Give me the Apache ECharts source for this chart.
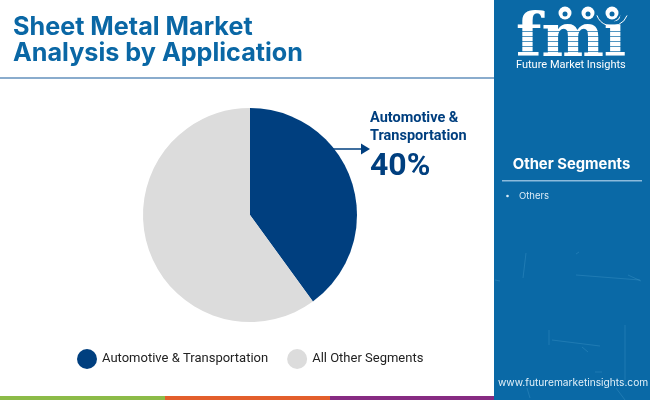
<!DOCTYPE html>
<html>
<head>
<meta charset="utf-8">
<style>
  html, body { margin: 0; padding: 0; background: #fff; }
  #chart { width: 650px; height: 400px; }
</style>
<script src="https://cdn.jsdelivr.net/npm/echarts@6/dist/echarts.min.js"></script>
</head>
<body>
<div id="chart"></div>
<script>
// data
var categories = ["Automotive & Transportation", "All Other Segments"];
var shares = [40, 60];
var sliceColors = ["#003f7f", "#dcdcdc"];
var titleLines = ["Sheet Metal Market", "Analysis by Application"];
var calloutLines = ["Automotive &", "Transportation"];
var sideHeading = "Other Segments";
var sideItems = ["Others"];

var myChart = echarts.init(document.getElementById("chart"), null, { renderer: "canvas" });

var panelBlue = "#0a69a6";
var titleBlue = "#0a67a5";

// 右侧面板上的淡色划痕
var scratches = [
  [526, 253, 523, 278], [576, 275, 640, 280], [628, 275, 641, 281],
  [549, 330, 549, 345], [552, 340, 600, 346], [625, 325, 625, 385],
  [495, 280, 500, 281], [576, 254, 579, 252], [527, 388, 530, 398],
  [616, 388, 625, 400], [595, 372, 602, 372], [582, 347, 588, 352]
];

function logo() {
  var items = [];
  items.push({ type: "text", z: 5, style: { x: 516, y: 11, text: "fmi", fill: "#fff",
    font: "bold 59px 'DejaVu Serif'" } });
  // 横条纹
  [31, 36, 41, 46, 51, 56].forEach(function (y) {
    items.push({ type: "rect", z: 6, shape: { x: 512, y: y, width: 118, height: 1 },
      style: { fill: panelBlue, opacity: 0.7 } });
  });
  [[565, 13], [588, 13], [612, 13]].forEach(function (c) {
    items.push({ type: "circle", z: 7, shape: { cx: c[0], cy: c[1], r: 8.5 },
      style: { fill: panelBlue } });
    items.push({ type: "circle", z: 8, shape: { cx: c[0], cy: c[1], r: 6.5 },
      style: { fill: "#fff" } });
    items.push({ type: "circle", z: 9, shape: { cx: c[0], cy: c[1] + 1, r: 2.5 },
      style: { fill: panelBlue } });
  });
  items.push({ type: "arc", z: 7, shape: { cx: 612, cy: 10, r: 16, startAngle: 0.35, endAngle: 2.8 },
    style: { stroke: "#fff", fill: "none", lineWidth: 1 } });
  items.push({ type: "text", z: 7, style: { x: 516, y: 60, text: "Future Market Insights",
    fill: "#fff", font: "11px Roboto" } });
  return items;
}

var graphics = [
  // 标题
  { type: "text", style: { x: 13, y: 15, text: titleLines[0], fill: titleBlue,
    font: "bold 25.2px Inter" } },
  { type: "text", style: { x: 13, y: 41, text: titleLines[1], fill: titleBlue,
    font: "bold 25.2px Inter" } },
  { type: "rect", shape: { x: 0, y: 77, width: 495, height: 2 }, style: { fill: "#8aaccd" } },
  // 底部色条
  { type: "rect", shape: { x: 0, y: 396, width: 165, height: 4 }, style: { fill: "#8cbb48" } },
  { type: "rect", shape: { x: 165, y: 396, width: 165, height: 4 }, style: { fill: "#e35f2c" } },
  { type: "rect", shape: { x: 330, y: 396, width: 165, height: 4 }, style: { fill: "#872b82" } },
  // 右侧面板
  { type: "rect", z: 1, shape: { x: 494, y: 0, width: 156, height: 400 }, style: { fill: panelBlue } },
  { type: "text", z: 3, style: { x: 571.5, y: 157, text: sideHeading, fill: "#fff", align: "center",
    font: "bold 14.8px Inter" } },
  { type: "rect", z: 3, shape: { x: 502, y: 180, width: 140, height: 1.5 }, style: { fill: "#8cbbdc" } },
  { type: "circle", z: 3, shape: { cx: 507.5, cy: 196, r: 1.3 }, style: { fill: "#dcecf7" } },
  { type: "text", z: 3, style: { x: 519, y: 191, text: sideItems[0], fill: "#dcecf7",
    font: "9.5px Inter" } },
  { type: "text", z: 3, style: { x: 498, y: 378, text: "www.futuremarketinsights.com", fill: "#e2f0f9",
    font: "10.2px Inter" } },
  // 引线
  { type: "line", z: 3, shape: { x1: 333, y1: 149, x2: 362, y2: 149 },
    style: { stroke: sliceColors[0], lineWidth: 1.5 } },
  { type: "polygon", z: 3, shape: { points: [[361, 143.5], [370, 149], [361, 154.5]] },
    style: { fill: sliceColors[0] } },
  { type: "text", z: 3, style: { x: 370, y: 111, text: calloutLines[0], fill: sliceColors[0],
    font: "bold 14.5px Roboto" } },
  { type: "text", z: 3, style: { x: 370, y: 129, text: calloutLines[1], fill: sliceColors[0],
    font: "bold 14.5px Roboto" } },
  { type: "text", z: 3, style: { x: 370, y: 151, text: shares[0] + "%", fill: sliceColors[0],
    font: "bold 32px Roboto" } }
];

scratches.forEach(function (s) {
  graphics.push({ type: "line", z: 2, shape: { x1: s[0], y1: s[1], x2: s[2], y2: s[3] },
    style: { stroke: "#4fa3cf", lineWidth: 1, opacity: 0.3 } });
});
graphics = graphics.concat(logo());

var option = {
  animation: false,
  color: sliceColors,
  legend: {
    left: 72,
    top: 344,
    itemWidth: 20,
    itemHeight: 20,
    itemGap: 19,
    icon: "circle",
    selectedMode: false,
    textStyle: { fontFamily: "Roboto", fontSize: 13, color: "#222" },
    data: categories
  },
  series: [
    {
      type: "pie",
      center: [250, 215],
      radius: [0, 107],
      startAngle: 90,
      clockwise: true,
      label: { show: false },
      labelLine: { show: false },
      silent: true,
      data: categories.map(function (name, i) {
        return { name: name, value: shares[i] };
      })
    }
  ],
  graphic: { elements: graphics }
};

myChart.setOption(option);
window.addEventListener("resize", function () {
  myChart.resize();
});
</script>
</body>
</html>
